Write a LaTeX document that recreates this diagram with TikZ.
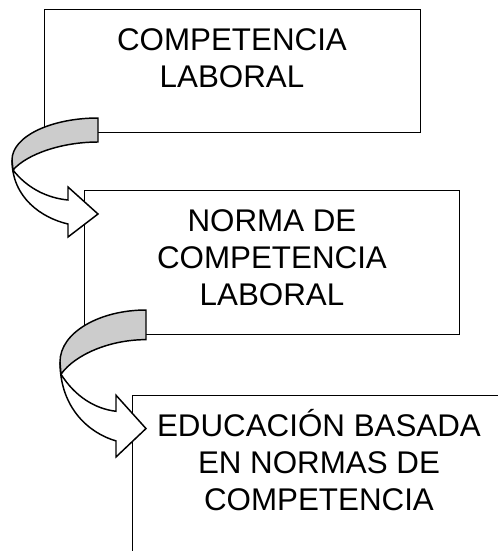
\documentclass[tikz,border=0pt]{standalone}
\usepackage{fontspec}
\setmainfont{Liberation Sans}
\definecolor{gris}{RGB}{204,204,204}
\tikzset{
  caja/.style={draw,inner sep=0pt,anchor=north west},
  texto/.style={align=center,inner sep=0pt,anchor=north,
    font=\fontsize{23.5pt}{27.75pt}\selectfont},
  flecha/.pic={
    % parte de abajo, con la punta
    \filldraw[fill=white] (0,42) .. controls (0,80) and (30,100) .. (56,106)
      -- (56,119) -- (86,96) -- (56,69) -- (56,82)
      .. controls (35,80) and (15,70) .. (1,52) -- cycle;
    % parte de arriba (gris)
    \filldraw[fill=gris] (86,0) .. controls (40,0) and (0,18) .. (0,42)
      -- (1,52) .. controls (15,36) and (50,24) .. (86,24) -- cycle;
  }
}
\begin{document}
\begin{tikzpicture}[x=0.75pt,y=-0.75pt,line width=1.1pt,line join=miter]
  \useasboundingbox (0,0) rectangle (498,551);
  \clip (0,0) rectangle (498,551);

  \node[caja,minimum width=282pt,minimum height=92.25pt] (compbox) at (44,9) {};
  \node[texto] (comptxt) at (232,28) {COMPETENCIA\\LABORAL};

  \node[caja,minimum width=281.25pt,minimum height=108pt] (normabox) at (84,190) {};
  \node[texto] (normatxt) at (272,209) {NORMA DE\\COMPETENCIA\\LABORAL};

  % la caja de abajo sigue fuera del dibujo
  \node[caja,minimum width=330pt,minimum height=200pt] (educbox) at (132,395) {};
  \node[texto] (eductxt) at (319,409) {EDUCACIÓN BASADA\\EN NORMAS DE\\COMPETENCIA};

  \pic at (12,118) {flecha};
  \pic[yscale=1.235] at (60,310) {flecha};
\end{tikzpicture}
\end{document}
